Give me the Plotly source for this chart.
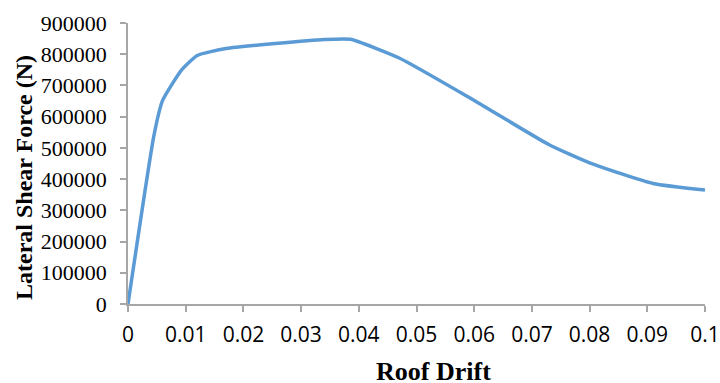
import plotly.graph_objects as go

# Pushover curve: roof drift ratio vs. base (lateral) shear force in newtons
roof_drift = [0, 0.0045, 0.006, 0.0093, 0.012, 0.017, 0.034, 0.0385,
              0.047, 0.06, 0.073, 0.08, 0.091, 0.1]
shear_force = [0, 540000, 652000, 750000, 796000, 818000, 847000, 848000,
               788000, 652000, 510000, 452000, 386000, 365000]

x_ticks = [0, 0.01, 0.02, 0.03, 0.04, 0.05, 0.06, 0.07, 0.08, 0.09, 0.1]
x_tick_text = ["0", "0.01", "0.02", "0.03", "0.04", "0.05", "0.06", "0.07", "0.08", "0.09", "0.1"]
y_ticks = [0, 100000, 200000, 300000, 400000, 500000, 600000, 700000, 800000, 900000]
y_tick_text = [str(v) for v in y_ticks]

serif = "Liberation Serif, Times New Roman, serif"
sans = "Open Sans, Liberation Sans, sans-serif"
axis_grey = "#a6a6a6"

# plot-area edges in pixels
L, R, T, B = 128, 705, 23, 304
W, H = 720, 383

fig = go.Figure(
    go.Scatter(
        x=roof_drift,
        y=shear_force,
        mode="lines",
        line=dict(color="#5b9bd5", width=3.5, shape="spline", smoothing=0.5),
        hoverinfo="x+y",
    )
)

fig.update_layout(
    width=W,
    height=H,
    margin=dict(l=L, r=W - R, t=T, b=H - B, autoexpand=False),
    paper_bgcolor="white",
    plot_bgcolor="white",
    showlegend=False,
    xaxis=dict(
        range=[0, 0.1],
        tickvals=x_ticks,
        ticktext=x_tick_text,
        automargin=False,
        showgrid=False,
        zeroline=False,
        showline=True,
        linecolor=axis_grey,
        linewidth=1.5,
        ticks="outside",
        ticklen=6,
        tickcolor=axis_grey,
        tickwidth=1.5,
        tickfont=dict(family=sans, size=21, color="#000000"),
        ticklabelstandoff=5,
    ),
    yaxis=dict(
        range=[0, 900000],
        tickvals=y_ticks,
        ticktext=y_tick_text,
        automargin=False,
        showgrid=False,
        zeroline=False,
        showline=True,
        linecolor=axis_grey,
        linewidth=1.5,
        ticks="outside",
        ticklen=6,
        tickcolor=axis_grey,
        tickwidth=1.5,
        tickfont=dict(family=serif, size=22, color="#000000"),
        ticklabelstandoff=9,
    ),
    annotations=[
        dict(
            text="<b>Roof Drift</b>",
            xref="paper", yref="paper",
            x=(433 - L) / (R - L), y=-(371 - B) / (B - T),
            xanchor="center", yanchor="middle",
            showarrow=False,
            font=dict(family=serif, size=26, color="#000000"),
        ),
        dict(
            text="<b>Lateral Shear Force (N)</b>",
            xref="paper", yref="paper",
            x=-(L - 24) / (R - L), y=(B - 178) / (B - T),
            xanchor="center", yanchor="middle",
            textangle=-90,
            showarrow=False,
            font=dict(family=serif, size=24, color="#000000"),
        ),
    ],
)

fig.write_html("out.html")
